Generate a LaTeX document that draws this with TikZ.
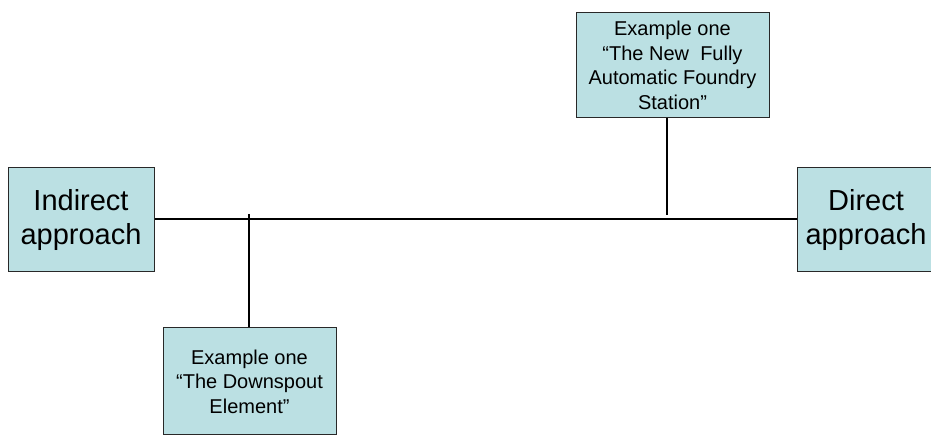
\documentclass[tikz,border=0pt]{standalone}
\usepackage{fontspec}
\setmainfont{Liberation Sans}
\definecolor{boxfill}{RGB}{187,224,227}
\definecolor{boxline}{RGB}{40,40,40}
\begin{document}
\begin{tikzpicture}[x=1pt,y=1pt,
  box/.style={draw=boxline, fill=boxfill, line width=1pt, inner sep=0pt,
              align=center, anchor=center},
  bigtext/.style={font=\fontsize{29}{34}\selectfont},
  smalltext/.style={font=\fontsize{20}{24.5}\selectfont},
  link/.style={line width=1.3pt, draw=black}]
\useasboundingbox (0,0) rectangle (931,436);
\clip (0,0) rectangle (931,436);

% the two approaches at either end of the axis
\node[box, bigtext, minimum width=146pt, minimum height=104pt]
  (indirect) at (81,216) {Indirect\\approach};
\node[box, bigtext, minimum width=138pt, minimum height=104pt, text width=136pt]
  (direct) at (866,216) {Direct\\approach};

% examples hanging off the axis
\node[box, smalltext, minimum width=193pt, minimum height=105pt]
  (upper) at (672.5,370.5)
  {Example one\\“The New\ \ Fully\\Automatic Foundry\\Station”};
\node[box, smalltext, minimum width=173pt, minimum height=107pt]
  (lower) at (249.5,54.5)
  {Example one\\“The Downspout\\Element”};

% points where the branches meet the axis
\coordinate (upperjoin) at (667,221);
\coordinate (lowerjoin) at (249,222);

% axis between the approaches
\draw[link] (indirect.east |- 0,217) -- (direct.west |- 0,217);

% branches to the examples
\draw[link] (upper.south -| upperjoin) -- (upperjoin);
\draw[link] (lowerjoin) -- (lower.north -| lowerjoin);
\end{tikzpicture}
\end{document}
